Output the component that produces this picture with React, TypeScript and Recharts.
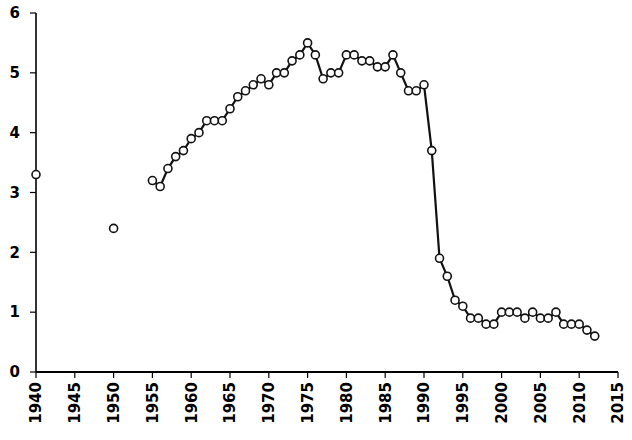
import React from 'react';
import { LineChart, Line, XAxis, YAxis } from 'recharts';

// isolated early observations (not joined to the main run)
const earlyYears = [1940, 1950];
const earlyValues = [3.3, 2.4];

const mainYears = [
  1955, 1956, 1957, 1958, 1959, 1960, 1961, 1962, 1963, 1964,
  1965, 1966, 1967, 1968, 1969, 1970, 1971, 1972, 1973, 1974,
  1975, 1976, 1977, 1978, 1979, 1980, 1981, 1982, 1983, 1984,
  1985, 1986, 1987, 1988, 1989, 1990, 1991, 1992, 1993, 1994,
  1995, 1996, 1997, 1998, 1999, 2000, 2001, 2002, 2003, 2004,
  2005, 2006, 2007, 2008, 2009, 2010, 2011, 2012,
];
const mainValues = [
  3.2, 3.1, 3.4, 3.6, 3.7, 3.9, 4.0, 4.2, 4.2, 4.2,
  4.4, 4.6, 4.7, 4.8, 4.9, 4.8, 5.0, 5.0, 5.2, 5.3,
  5.5, 5.3, 4.9, 5.0, 5.0, 5.3, 5.3, 5.2, 5.2, 5.1,
  5.1, 5.3, 5.0, 4.7, 4.7, 4.8, 3.7, 1.9, 1.6, 1.2,
  1.1, 0.9, 0.9, 0.8, 0.8, 1.0, 1.0, 1.0, 0.9, 1.0,
  0.9, 0.9, 1.0, 0.8, 0.8, 0.8, 0.7, 0.6,
];

const xTicks = [1940, 1945, 1950, 1955, 1960, 1965, 1970, 1975, 1980, 1985, 1990, 1995, 2000, 2005, 2010, 2015];
const yTicks = [0, 1, 2, 3, 4, 5, 6];

const data = [
  ...earlyYears.map((year, i) => ({ year, early: earlyValues[i], main: null as number | null })),
  ...mainYears.map((year, i) => ({ year, early: null as number | null, main: mainValues[i] })),
];

const FONT = '"DejaVu Sans", Arial, sans-serif';

function XTick(props: any) {
  const { x, y, payload } = props;
  return (
    <g transform={`translate(${x},${y})`}>
      <text
        transform="rotate(-90)"
        textAnchor="end"
        dy="0.36em"
        fontFamily={FONT}
        fontWeight="bold"
        fontSize={15}
        fill="#000"
      >
        {payload.value}
      </text>
    </g>
  );
}

const dot = { r: 4, fill: '#fff', stroke: '#111', strokeWidth: 1.6 };

export default function App() {
  return (
    <div style={{ position: 'absolute', left: 0, top: 0, background: '#fff' }}>
      <LineChart width={632} height={440} data={data} margin={{ top: 13, right: 14, left: 0, bottom: 0 }}>
        <XAxis
          dataKey="year"
          type="number"
          domain={[1940, 2015]}
          ticks={xTicks}
          interval={0}
          height={68}
          tickSize={6}
          tickMargin={4}
          tick={<XTick />}
          axisLine={{ stroke: '#000', strokeWidth: 2 }}
          tickLine={{ stroke: '#000', strokeWidth: 1.2 }}
        />
        <YAxis
          type="number"
          domain={[0, 6]}
          ticks={yTicks}
          interval={0}
          width={36}
          tickSize={6}
          tickMargin={10}
          tick={{ fontFamily: FONT, fontWeight: 'bold', fontSize: 15, fill: '#000' }}
          axisLine={{ stroke: '#000', strokeWidth: 1.6 }}
          tickLine={{ stroke: '#000', strokeWidth: 1.2 }}
        />
        <Line
          dataKey="main"
          type="linear"
          stroke="#111"
          strokeWidth={2.2}
          dot={dot}
          connectNulls={false}
          isAnimationActive={false}
        />
        <Line
          dataKey="early"
          type="linear"
          stroke="none"
          dot={dot}
          connectNulls={false}
          isAnimationActive={false}
        />
      </LineChart>
    </div>
  );
}
